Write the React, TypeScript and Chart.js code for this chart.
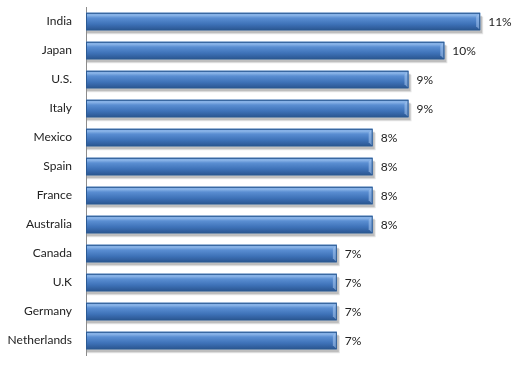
import React, { useEffect, useRef } from "react";
import { Chart, registerables } from "chart.js";

Chart.register(...registerables);

const categories = ["India", "Japan", "U.S.", "Italy", "Mexico", "Spain", "France", "Australia", "Canada", "U.K", "Germany", "Netherlands"];
const values = [11, 10, 9, 9, 8, 8, 8, 8, 7, 7, 7, 7];
const valueLabels = ["11%", "10%", "9%", "9%", "8%", "8%", "8%", "8%", "7%", "7%", "7%", "7%"];

const FONT = "Lato, 'Open Sans', sans-serif";

const barStyler = {
  id: "barStyler",
  beforeDatasetsDraw(chart: any) {
    const ctx = chart.ctx;
    const meta = chart.getDatasetMeta(0);
    ctx.save();
    meta.data.forEach((el: any) => {
      const p = el.getProps(["x", "y", "base", "height"], true);
      const top = p.y - p.height / 2;
      ctx.fillStyle = "rgba(120,120,120,0.35)";
      ctx.fillRect(p.base + 1, top + 3, p.x - p.base + 1, p.height);
      ctx.fillStyle = "rgba(120,120,120,0.2)";
      ctx.fillRect(p.base + 1, top + 4, p.x - p.base + 2, p.height);
    });
    ctx.restore();
  },
  afterDatasetsDraw(chart: any) {
    const ctx = chart.ctx;
    const meta = chart.getDatasetMeta(0);
    ctx.save();
    meta.data.forEach((el: any, i: number) => {
      const p = el.getProps(["x", "y", "base", "height"], true);
      const top = p.y - p.height / 2;
      const h = p.height;
      const left = p.base;
      const w = p.x - p.base;
      const g = ctx.createLinearGradient(0, top, 0, top + h);
      g.addColorStop(0, "#5f92d6");
      g.addColorStop(0.12, "#8fb8ea");
      g.addColorStop(0.3, "#5a8ed2");
      g.addColorStop(0.65, "#3e72b8");
      g.addColorStop(1, "#2a5590");
      ctx.fillStyle = g;
      ctx.fillRect(left, top, w, h);
      const b = 4;
      ctx.fillStyle = "rgba(170,200,240,0.55)";
      ctx.beginPath();
      ctx.moveTo(left + w - b, top + b);
      ctx.lineTo(left + w, top);
      ctx.lineTo(left + w, top + h);
      ctx.lineTo(left + w - b, top + h - b);
      ctx.closePath();
      ctx.fill();
      ctx.strokeStyle = "#2c5a93";
      ctx.lineWidth = 1;
      ctx.strokeRect(left + 0.5, top + 0.5, w - 1, h - 1);
      ctx.fillStyle = "#222";
      ctx.font = "12px " + FONT;
      ctx.textAlign = "left";
      ctx.textBaseline = "middle";
      ctx.fillText(valueLabels[i], p.x + 8, p.y + 1);
    });
    ctx.restore();
  },
};

export default function App() {
  const ref = useRef<HTMLCanvasElement>(null);
  useEffect(() => {
    document.body.style.margin = "0";
    const chart = new Chart(ref.current!, {
      type: "bar",
      data: {
        labels: categories,
        datasets: [
          {
            data: values,
            backgroundColor: "#4a7ebb",
            borderWidth: 0,
            categoryPercentage: 1,
            barPercentage: 0.6,
          },
        ],
      },
      options: {
        indexAxis: "y",
        animation: false,
        responsive: false,
        layout: { padding: { top: 7, bottom: 10, right: 8, left: 0 } },
        plugins: { legend: { display: false }, tooltip: { enabled: false } },
        scales: {
          x: { display: false, min: 0, max: 12 },
          y: {
            grid: { display: false, drawTicks: false },
            border: { display: true, color: "#8c8c8c", width: 1 },
            ticks: { color: "#222", font: { family: FONT, size: 12 }, padding: 14 },
            afterFit(scale: any) {
              scale.width = 86;
              scale.paddingTop = 0;
              scale.paddingBottom = 0;
            },
          },
        },
      },
      plugins: [barStyler],
    });
    return () => chart.destroy();
  }, []);
  return (
    <div style={{ width: 524, height: 365, background: "#fff" }}>
      <canvas ref={ref} width={524} height={365} />
    </div>
  );
}
